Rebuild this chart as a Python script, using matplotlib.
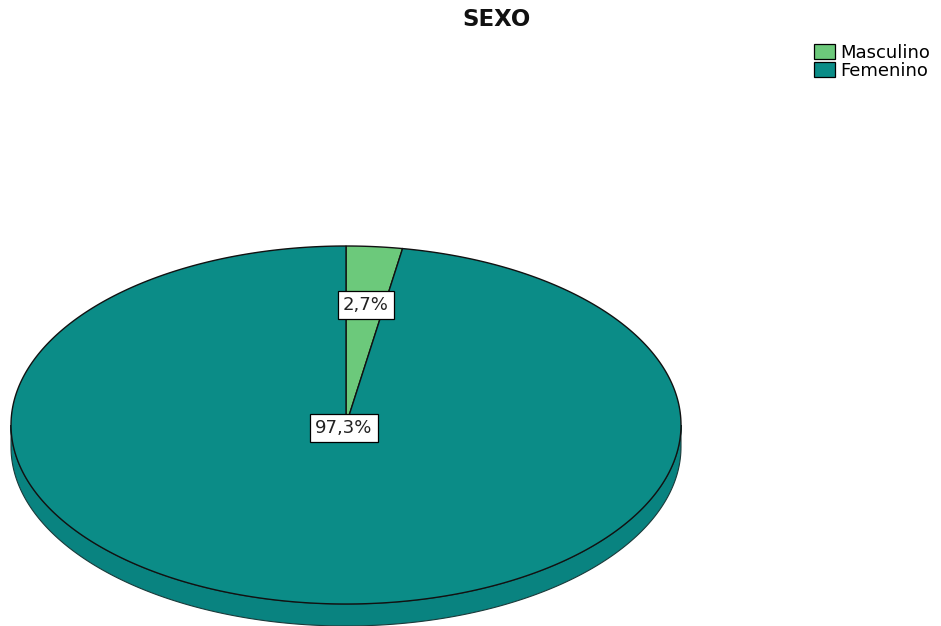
import numpy as np
import matplotlib
matplotlib.use("Agg")
import matplotlib.pyplot as plt
from matplotlib.patches import Polygon, Patch

plt.rcParams["font.family"] = ["DejaVu Sans"]

# Frequencies (percent) by sex
categories = ["Masculino", "Femenino"]
percents = [2.7, 97.3]
labels = ["2,7%", "97,3%"]

TOP_COLORS = ["#6cc97b", "#0b8c87"]
SIDE_COLORS = ["#5ab86a", "#098380"]

# pie geometry in pixel space
CX, CY = 346.0, 425.0
RX, RY = 335.0, 179.0
DEPTH = 22.0


def ell(theta_deg, dy=0.0):
    t = np.radians(theta_deg)
    return np.column_stack([CX + RX * np.sin(t), CY - RY * np.cos(t) + dy])


fig = plt.figure(figsize=(9.41, 6.26), dpi=100)
ax = fig.add_axes([0, 0, 1, 1])
ax.set_xlim(0, 941)
ax.set_ylim(626, 0)
ax.axis("off")

# slice angles, clockwise from 12 o'clock
bounds = np.concatenate([[0], np.cumsum(percents) / 100 * 360])

# side wall (front half, angles 90..270)
for i in range(len(percents)):
    a0, a1 = max(bounds[i], 90), min(bounds[i + 1], 270)
    if a1 <= a0:
        continue
    th = np.linspace(a0, a1, 200)
    pts = np.vstack([ell(th), ell(th[::-1], DEPTH)])
    ax.add_patch(Polygon(pts, closed=True, facecolor=SIDE_COLORS[i],
                         edgecolor="#1a3a3a", linewidth=0.8))

# top face
for i in range(len(percents)):
    th = np.linspace(bounds[i], bounds[i + 1], 400)
    pts = np.vstack([[CX, CY], ell(th)])
    ax.add_patch(Polygon(pts, closed=True, facecolor=TOP_COLORS[i],
                         edgecolor="#111111", linewidth=1.0))

# value labels
label_pos = [(366, 305), (344, 428)]
for (x, y), txt in zip(label_pos, labels):
    ax.text(x, y, txt, ha="center", va="center", fontsize=13,
            color="#222222",
            bbox=dict(boxstyle="square,pad=0.3", facecolor="white",
                      edgecolor="black", linewidth=0.9))

ax.text(497, 20, "SEXO", ha="center", va="center", fontsize=16.5,
        fontweight="bold", color="#111111")

handles = [Patch(facecolor=c, edgecolor="black", linewidth=0.9)
           for c in TOP_COLORS]
ax.legend(handles, categories, loc="upper left",
          bbox_to_anchor=(812 / 941, 1 - 42 / 626), frameon=False,
          fontsize=13, handlelength=1.2, handleheight=0.95,
          handletextpad=0.25, labelspacing=0.0, borderpad=0.1,
          borderaxespad=0.0)

fig.savefig("out.png", dpi=100, facecolor="white")
